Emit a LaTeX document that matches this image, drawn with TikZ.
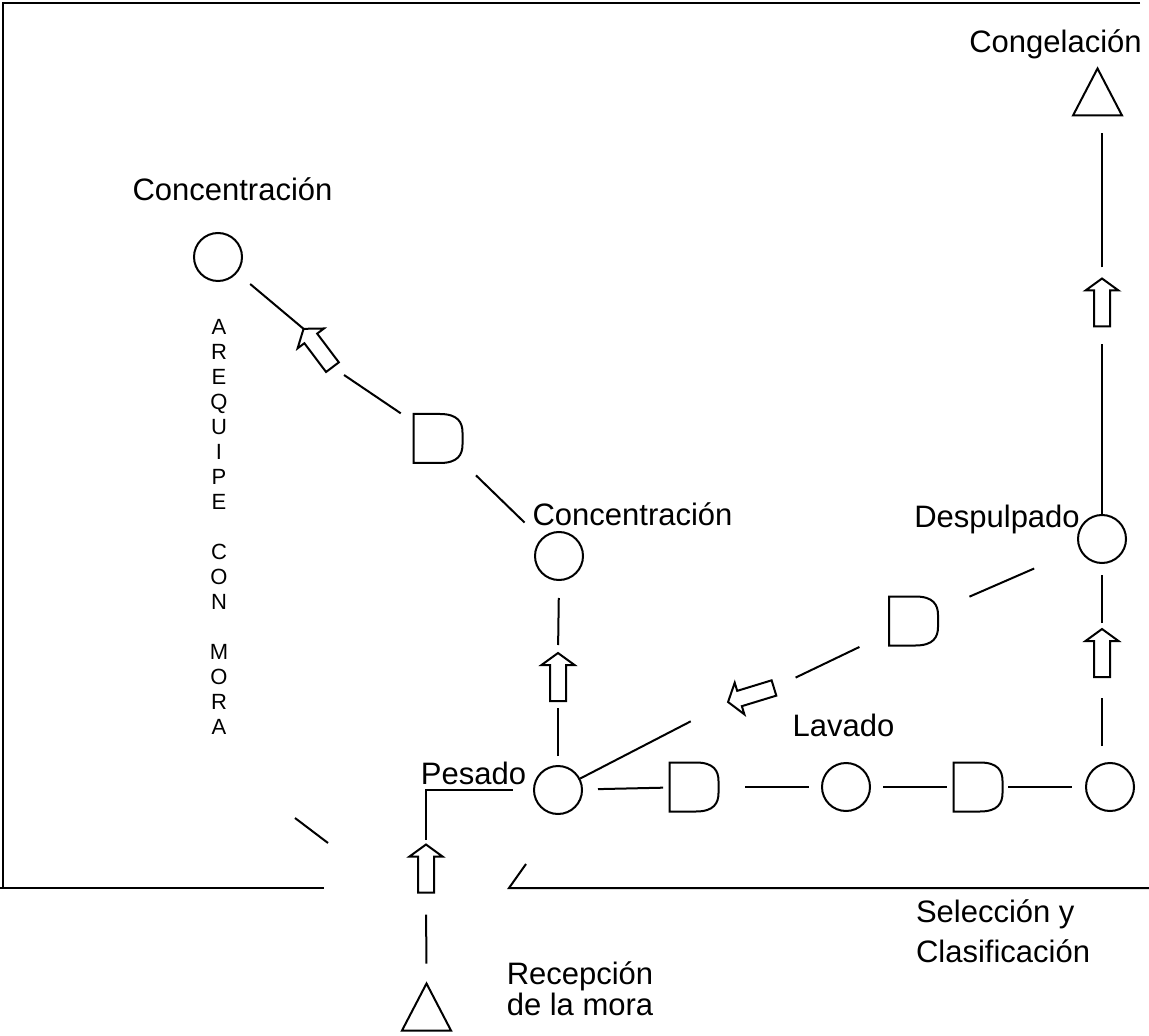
\documentclass[tikz,border=0pt]{standalone}
\usepackage{fontspec}
\setmainfont{Liberation Sans}

\tikzset{
  proc/.style={circle, draw, minimum size=24pt, inner sep=0pt},
  lbl/.style={font=\fontsize{15.5}{18.5}\selectfont, inner sep=0pt},
  vlbl/.style={font=\fontsize{11}{12.5}\selectfont, inner sep=0pt, align=center},
  % delay: flat left side, rounded right side
  pics/dly/.style={code={
    \coordinate (-c) at (0,0);
    \draw (-24.5,-24.5) -- (2,-24.5) .. controls (20,-24.5) and (24.5,-16) .. (24.5,-6)
      -- (24.5,6) .. controls (24.5,16) and (20,24.5) .. (2,24.5) -- (-24.5,24.5) -- cycle;
  }},
  % storage triangle
  pics/stor/.style={code={
    \coordinate (-top) at (0,-23.5);
    \coordinate (-bot) at (0,23.5);
    \draw (0,-23.5) -- (24.5,23.5) -- (-24.5,23.5) -- cycle;
  }},
  % hollow block arrow, drawn pointing right, turned with rotate
  pics/move/.style={code={
    \coordinate (-tip) at (24,0);
    \coordinate (-tail) at (-24,0);
    \draw (24,0) -- (12,16.5) -- (12,8) -- (-24,8) -- (-24,-8) -- (12,-8) -- (12,-16.5) -- cycle;
  }}
}

\begin{document}
\begin{tikzpicture}[x=0.5pt, y=-0.5pt, line width=1pt]
	\useasboundingbox (0,0) rectangle (1149,1036);

	% frame
	\draw (1140,3) -- (3,3) -- (3,888);
	\draw (0,888) -- (324,888);
	\draw (295,818) -- (328,843);
	\draw (526,864) -- (509,888) -- (1149,888);

	% operations
	\node[proc] (con1) at (218,257) {};
	\node[proc] (con2) at (559,556) {};
	\node[proc] (pes) at (558,790) {};
	\node[proc] (lav) at (846,787) {};
	\node[proc] (sel) at (1110,787) {};
	\node[proc] (desp) at (1102,539) {};

	% delays
	\pic (dl1) at (438,438.5) {dly};
	\pic (dl2) at (694,787) {dly};
	\pic (dl3) at (978,787) {dly};
	\pic (dl4) at (913.5,621) {dly};

	% storages
	\pic (recp) at (426.5,1007) {stor};
	\pic (cong) at (1097.5,92) {stor};

	% transports
	\pic[rotate=90] (ar1) at (426,868.5) {move};
	\pic[rotate=90] (ar2) at (558,677) {move};
	\pic[rotate=127] (ar3) at (318,348) {move};
	\pic[rotate=90] (ar4) at (1102,302.5) {move};
	\pic[rotate=90] (ar5) at (1102,653) {move};
	\pic[rotate=197] (ar6) at (751,695) {move};

	% connectors
	\draw[shorten <=10pt, shorten >=11pt] (recp-top) -- (ar1-tail);
	\draw[shorten <=2.5pt, shorten >=10pt] (ar1-tip) |- (pes.west);
	\draw[shorten <=4.5pt, shorten >=3.5pt] (pes.north) -- (ar2-tail);
	\draw[shorten <=4pt, shorten >=8.5pt] (ar2-tip) -- (con2.south);
	\draw[shorten <=11.5pt, shorten >=26.5pt] (con2) -- (dl1-c);
	\draw[shorten <=22.5pt, shorten >=7pt] (dl1-c) -- (ar3-tail);
	\draw[shorten >=8.5pt] (ar3-tip) -- (con1);
	\draw[shorten <=7.5pt, shorten >=15.5pt] (pes) -- (dl2-c);
	\draw[shorten <=25.5pt, shorten >=6pt] (dl2-c) -- (lav);
	\draw[shorten <=6pt, shorten >=15.5pt] (lav) -- (dl3-c);
	\draw[shorten <=15pt, shorten >=6.5pt] (dl3-c) -- (sel);
	\draw[shorten <=8pt, shorten >=10.5pt] (ar5-tail |- sel.north) -- (ar5-tail);
	\draw[shorten <=3pt, shorten >=5.5pt] (ar5-tip) -- (desp.south);
	\draw[shorten >=9pt] (desp.north) -- (ar4-tail);
	\draw[shorten <=5.5pt, shorten >=9pt] (ar4-tip) -- (ar4-tip |- cong-bot);
	\draw[shorten <=24.5pt, shorten >=30.5pt] (desp) -- (dl4-c);
	\draw[shorten <=30pt, shorten >=12pt] (dl4-c) -- (ar6-tail);
	\draw[shorten <=21pt] (ar6-tip) -- (pes);

	% labels
	\node[lbl, anchor=base] (tcon1) at (232.5,201) {Concentración};
	\node[lbl, anchor=base] (tcon2) at (632.5,525) {Concentración};
	\node[lbl, anchor=base] (tpes) at (473.5,784) {Pesado};
	\node[lbl, anchor=base] (tlav) at (843.5,736) {Lavado};
	\node[lbl, anchor=base] (tdesp) at (997,527) {Despulpado};
	\node[lbl, anchor=base] (tcong) at (1055.5,53) {Congelación};
	\node[lbl, font=\fontsize{15.5}{15.5}\selectfont, align=center, anchor=base] (trec) at (580,1015) {Recepción\\de la mora};
	\node[lbl, font=\fontsize{15.5}{20}\selectfont, align=left, anchor=base west] (tsel) at (915,962) {Selección y\\Clasificación};
	\node[vlbl, anchor=north] (tareq) at (219,318)
		{A\\R\\E\\Q\\U\\I\\P\\E\\~\\C\\O\\N\\~\\M\\O\\R\\A};
\end{tikzpicture}
\end{document}
